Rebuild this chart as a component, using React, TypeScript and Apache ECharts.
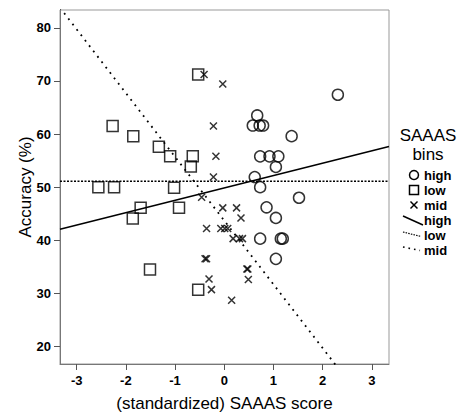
import React, { useEffect, useRef } from "react";
import * as echarts from "echarts";

// ---- data ----
const xTicks = [-3, -2, -1, 0, 1, 2, 3];
const yTicks = [20, 30, 40, 50, 60, 70, 80];
const xRange = [-3.34, 3.35];
const yRange = [16.7, 83.35];

const highPoints: [number, number][] = [
  [2.31, 67.4], [0.67, 63.5], [0.58, 61.6], [0.72, 61.6], [0.79, 61.6],
  [1.37, 59.6], [0.73, 55.8], [0.92, 55.8], [1.1, 55.8], [1.05, 53.8],
  [0.62, 51.9], [0.73, 50.0], [1.52, 48.0], [0.86, 46.2], [1.05, 44.2],
  [0.73, 40.3], [1.15, 40.3], [1.19, 40.3], [1.05, 36.5],
];
const lowPoints: [number, number][] = [
  [-2.56, 50.0], [-2.24, 50.0], [-2.27, 61.5], [-1.85, 59.6], [-1.33, 57.6],
  [-1.1, 55.8], [-0.64, 55.8], [-0.68, 53.9], [-0.53, 71.2], [-1.02, 49.9],
  [-1.7, 46.1], [-0.92, 46.1], [-1.86, 44.1], [-1.51, 34.5], [-0.53, 30.7],
];
const midPoints: [number, number][] = [
  [-0.41, 71.2], [-0.03, 69.4], [-0.22, 61.5], [-0.17, 55.8], [-0.22, 51.9],
  [-0.46, 48.1], [-0.03, 46.1], [0.25, 46.1], [0.34, 44.2], [-0.36, 42.2],
  [-0.07, 42.2], [0.01, 42.2], [0.07, 42.2], [0.18, 40.3], [0.31, 40.3],
  [0.37, 40.3], [-0.39, 36.5], [-0.36, 36.5], [0.46, 34.6], [0.48, 34.6],
  [0.49, 32.6], [-0.31, 32.7], [-0.26, 30.7], [0.15, 28.7],
];
// regression fits: [intercept, slope]
const fitHigh = [49.86, 2.33];
const fitLow = [51.13, 0];
const fitMid = [43.7, -12.0];

const legendTitle = ["SAAAS", "bins"];
const legendLabels = ["high", "low", "mid", "high", "low", "mid"];

const FONT = "'Liberation Sans', Arial, sans-serif";
const crossPath = "path://M0,0L10,10M10,0L0,10";

function fitLine(fit: number[]) {
  return xRange.map((x) => [x, fit[0] + fit[1] * x]);
}

export default function App() {
  const ref = useRef<HTMLDivElement>(null);
  useEffect(() => {
    if (!ref.current) return;
    const chart = echarts.init(ref.current, null, { renderer: "svg" });
    const lx = 414;
    const tx = 424;
    const rowY = [175, 190, 205, 220, 235, 250];
    const legendText = (i: number) => ({
      type: "text",
      x: tx,
      y: rowY[i],
      style: {
        text: legendLabels[i],
        fill: "#000",
        font: `bold 13px ${FONT}`,
        textVerticalAlign: "middle",
        verticalAlign: "middle",
      },
    });
    const titleText = (i: number, y: number) => ({
      type: "text",
      x: 428,
      y,
      style: {
        text: legendTitle[i],
        fill: "#000",
        font: `17px ${FONT}`,
        textAlign: "center",
        align: "center",
        textVerticalAlign: "middle",
        verticalAlign: "middle",
      },
    });
    const option: any = {
      animation: false,
      backgroundColor: "#fff",
      grid: {
        left: 60,
        top: 10,
        right: 72,
        bottom: 52.5,
        show: true,
        borderColor: "#999",
        borderWidth: 1,
        backgroundColor: "transparent",
      },
      xAxis: {
        type: "value",
        min: xRange[0],
        max: xRange[1],
        name: "(standardized) SAAAS score",
        nameLocation: "middle",
        nameGap: 31,
        nameMoveOverlap: false,
        nameTextStyle: { fontSize: 17, fontFamily: FONT, color: "#000" },
        axisLine: { show: true, onZero: false, lineStyle: { color: "#777", width: 1 } },
        axisTick: { show: true, length: 6, customValues: xTicks, lineStyle: { color: "#555" } },
        axisLabel: {
          customValues: xTicks,
          fontSize: 13,
          fontWeight: "bold",
          fontFamily: FONT,
          color: "#000",
          margin: 10,
        },
        splitLine: { show: false },
      },
      yAxis: {
        type: "value",
        min: yRange[0],
        max: yRange[1],
        name: "Accuracy (%)",
        nameLocation: "middle",
        nameGap: 26,
        nameMoveOverlap: false,
        nameTextStyle: { fontSize: 17, fontFamily: FONT, color: "#000" },
        axisLine: { show: true, onZero: false, lineStyle: { color: "#777", width: 1 } },
        axisTick: { show: true, length: 6, customValues: yTicks, lineStyle: { color: "#555" } },
        axisLabel: {
          customValues: yTicks,
          fontSize: 13,
          fontWeight: "bold",
          fontFamily: FONT,
          color: "#000",
          margin: 9,
        },
        splitLine: { show: false },
      },
      series: [
        {
          type: "scatter",
          name: "high",
          data: highPoints,
          symbol: "circle",
          symbolSize: 11,
          itemStyle: { color: "rgba(0,0,0,0)", borderColor: "#000", borderWidth: 1.5 },
          silent: true,
        },
        {
          type: "scatter",
          name: "low",
          data: lowPoints,
          symbol: "rect",
          symbolSize: 11,
          itemStyle: { color: "rgba(0,0,0,0)", borderColor: "#000", borderWidth: 1.5 },
          silent: true,
        },
        {
          type: "scatter",
          name: "mid",
          data: midPoints,
          symbol: crossPath,
          symbolSize: 7,
          itemStyle: { color: "rgba(0,0,0,0)", borderColor: "#000", borderWidth: 1.5 },
          silent: true,
        },
        {
          type: "line",
          data: fitLine(fitHigh),
          symbol: "none",
          clip: true,
          lineStyle: { color: "#000", width: 1.5 },
          silent: true,
        },
        {
          type: "line",
          data: fitLine(fitLow),
          symbol: "none",
          clip: true,
          lineStyle: { color: "#000", width: 1.5, type: [2, 1.5] },
          silent: true,
        },
        {
          type: "line",
          data: fitLine(fitMid),
          symbol: "none",
          clip: true,
          lineStyle: { color: "#000", width: 1.8, type: [1.8, 5] },
          silent: true,
        },
      ],
      graphic: [
        titleText(0, 135),
        titleText(1, 154),
        {
          type: "circle",
          shape: { cx: lx, cy: rowY[0], r: 4.5 },
          style: { fill: "none", stroke: "#000", lineWidth: 1.5 },
        },
        {
          type: "rect",
          shape: { x: lx - 4.5, y: rowY[1] - 4.5, width: 9, height: 9 },
          style: { fill: "none", stroke: "#000", lineWidth: 1.5 },
        },
        {
          type: "line",
          shape: { x1: lx - 3.5, y1: rowY[2] - 3.5, x2: lx + 3.5, y2: rowY[2] + 3.5 },
          style: { stroke: "#000", lineWidth: 1.5 },
        },
        {
          type: "line",
          shape: { x1: lx + 3.5, y1: rowY[2] - 3.5, x2: lx - 3.5, y2: rowY[2] + 3.5 },
          style: { stroke: "#000", lineWidth: 1.5 },
        },
        {
          type: "line",
          shape: { x1: 403, y1: rowY[3] - 4, x2: 423, y2: rowY[3] + 5 },
          style: { stroke: "#000", lineWidth: 1.5 },
        },
        {
          type: "line",
          shape: { x1: 403, y1: rowY[4] - 3, x2: 421, y2: rowY[4] + 1.5 },
          style: { stroke: "#000", lineWidth: 1.2, lineDash: [1.5, 1.2] },
        },
        {
          type: "line",
          shape: { x1: 403, y1: rowY[5] - 3, x2: 420, y2: rowY[5] + 0.5 },
          style: { stroke: "#000", lineWidth: 1.6, lineDash: [1.6, 4] },
        },
        legendText(0),
        legendText(1),
        legendText(2),
        legendText(3),
        legendText(4),
        legendText(5),
      ],
    };
    chart.setOption(option);
    return () => chart.dispose();
  }, []);
  return (
    <div
      ref={ref}
      style={{ position: "fixed", left: 0, top: 0, width: 461, height: 417 }}
    />
  );
}
